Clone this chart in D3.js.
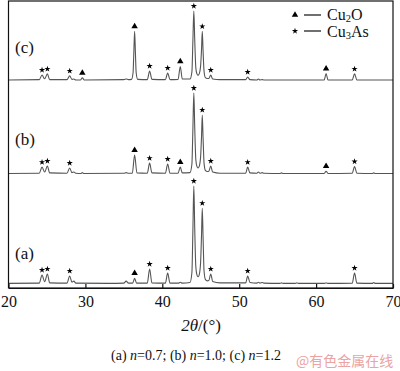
<!DOCTYPE html>
<html>
<head>
<meta charset="utf-8">
<script src="https://cdn.jsdelivr.net/npm/d3@7"></script>
<style>
  html, body { margin: 0; padding: 0; background: #fff; }
  svg { display: block; }
</style>
</head>
<body>
<svg id="chart" width="400" height="371"></svg>
<script>
// ---------- data ----------
const xTicks = [20, 30, 40, 50, 60, 70];
const seriesNames = ["(a)", "(b)", "(c)"];
const nValues = ["0.7", "1.0", "1.2"];
// vertical stacking offsets (intensity units)
const offsets = [14, 397, 723];

// XRD pattern, [2θ, relative intensity]
const patternA = [
  [20,2],[24.0,3],[24.36,31],[24.7,8],[25.06,35],[25.35,4],[27.6,3],[27.96,28],[28.25,6],[28.5,10],[28.75,3],
  [33,2],[35.0,3],[35.3,10],[35.6,3],[36.15,3],[36.4,20],[36.65,3],[38.05,3],[38.35,52],[38.65,4],
  [40.4,3],[40.7,38],[41.0,3],[42.1,3],[42.34,6],[42.6,3],[43.6,5],[43.85,40],[43.98,190],[44.1,341],
  [44.22,190],[44.36,60],[44.5,32],[44.65,25],[44.8,32],[44.98,75],[45.1,170],[45.2,264],[45.3,165],
  [45.43,45],[45.6,16],[45.85,11],[46.05,12],[46.3,35],[46.55,9],[47.5,4],[50.85,4],[51.1,28],[51.4,5],
  [52.3,3],[52.5,6],[52.7,3],[53.0,5],[53.2,3],[55.3,2],[55.5,4],[55.7,2],[57.3,2],[57.5,4],[57.7,2],
  [61.1,2],[61.3,4],[61.5,2],[64.7,3],[65.0,38],[65.3,3],[67.3,2],[67.5,5],[67.7,2],[70,2]
];
const patternB = [
  [20,2],[24.0,3],[24.36,24],[24.7,7],[25.06,28],[25.35,4],[27.6,3],[27.96,21],[28.25,5],[28.5,7],[28.75,3],
  [29.4,2],[29.6,5],[29.8,2],[35.0,3],[35.3,5],[35.6,3],[36.1,3],[36.4,66],[36.7,4],[38.05,3],[38.35,38],
  [38.65,4],[40.4,3],[40.7,35],[41.0,3],[42.05,3],[42.34,24],[42.6,4],[43.6,5],[43.85,35],[43.98,160],
  [44.1,282],[44.22,160],[44.36,50],[44.5,27],[44.65,21],[44.8,27],[44.98,60],[45.1,130],[45.2,206],
  [45.3,128],[45.43,38],[45.6,13],[45.85,9],[46.05,10],[46.3,28],[46.55,7],[47.5,3],[50.85,3],[51.1,24],
  [51.4,4],[52.3,3],[52.5,7],[52.7,3],[53.0,5],[53.2,3],[55.3,2],[55.5,4],[55.7,2],[61.05,2],[61.3,10],
  [61.55,2],[64.7,3],[65.0,26],[65.3,3],[67.3,2],[67.5,4],[67.7,2],[70,2]
];
const patternC = [
  [20,2],[24.0,3],[24.36,19],[24.7,6],[25.06,23],[25.35,3],[27.6,3],[27.96,16],[28.25,4],[28.5,5],[28.75,2],
  [29.35,2],[29.6,9],[29.85,2],[35.0,3],[35.3,5],[35.6,3],[36.0,4],[36.2,28],[36.3,100],[36.4,171],
  [36.5,100],[36.6,28],[36.8,4],[38.05,3],[38.35,33],[38.65,4],[40.4,3],[40.7,26],[41.0,3],[42.05,4],
  [42.34,49],[42.6,5],[43.6,5],[43.85,30],[43.98,140],[44.1,242],[44.22,140],[44.36,44],[44.5,23],
  [44.65,18],[44.8,23],[44.98,50],[45.1,108],[45.2,171],[45.3,105],[45.43,32],[45.6,10],[45.85,7],
  [46.05,7],[46.3,19],[46.55,5],[47.5,3],[50.85,3],[51.1,12],[51.4,3],[52.3,2],[52.5,5],[52.7,2],
  [53.0,3],[53.2,2],[61.05,2],[61.3,24],[61.55,2],[64.7,2],[65.0,23],[65.3,2],[70,2]
];
const patterns = [patternA, patternB, patternC];

// phase markers: star = Cu3As, triangle = Cu2O
const starsA = [24.36, 25.06, 27.96, 38.35, 40.7, 44.1, 45.2, 46.3, 51.1, 65.0];
const trianglesA = [36.4];
const starsB = [24.36, 25.06, 27.96, 38.35, 40.7, 44.1, 45.2, 46.3, 51.1, 65.0];
const trianglesB = [36.4, 42.34, 61.3];
const starsC = [24.36, 25.06, 27.96, 38.35, 40.7, 44.1, 45.2, 46.3, 51.1, 65.0];
const trianglesC = [29.6, 36.4, 42.34, 61.3];
const stars = [starsA, starsB, starsC];
const triangles = [trianglesA, trianglesB, trianglesC];

// ---------- drawing ----------
const svg = d3.select("#chart");
const L = 8.5, R = 393, T = 1, B = 288;
const x = d3.scaleLinear().domain([20, 70]).range([L, R]);
const y = d3.scaleLinear().domain([0, 1000]).range([B, T]);
const serif = "'Liberation Serif', 'Times New Roman', serif";

const line = d3.line()
  .x(d => x(d[0]))
  .y(d => y(d[1]))
  .curve(d3.curveMonotoneX);

patterns.forEach((pat, i) => {
  const data = pat.map(p => [p[0], p[1] + offsets[i]]);
  svg.append("path")
    .datum(data)
    .attr("d", line)
    .attr("fill", "none")
    .attr("stroke", "#555")
    .attr("stroke-width", 1.1)
    .attr("stroke-linejoin", "round");
});

function peakTop(pat, pos) {
  let best = 0;
  pat.forEach(p => { if (Math.abs(p[0] - pos) < 0.16 && p[1] > best) best = p[1]; });
  return best;
}

const starSym = d3.symbol().type(d3.symbolStar).size(12);
const triSym = d3.symbol().type(d3.symbolTriangle).size(18);

patterns.forEach((pat, i) => {
  stars[i].forEach(pos => {
    svg.append("path")
      .attr("d", starSym())
      .attr("transform", `translate(${x(pos)},${y(peakTop(pat, pos) + offsets[i]) - 5})`)
      .attr("fill", "#000");
  });
  triangles[i].forEach(pos => {
    svg.append("path")
      .attr("d", triSym())
      .attr("transform", `translate(${x(pos)},${y(peakTop(pat, pos) + offsets[i]) - 5})`)
      .attr("fill", "#000");
  });
});

// series labels
const labelY = [259, 145, 53];
seriesNames.forEach((s, i) => {
  svg.append("text")
    .attr("x", 15).attr("y", labelY[i])
    .attr("font-family", serif).attr("font-size", 17)
    .attr("fill", "#111")
    .text(s);
});

// frame
svg.append("rect")
  .attr("x", L).attr("y", T).attr("width", R - L).attr("height", B - T)
  .attr("fill", "none").attr("stroke", "#111").attr("stroke-width", 1.2);

// x axis (ticks inward)
const xAxis = d3.axisBottom(x).tickValues(xTicks).tickSizeInner(-4).tickSizeOuter(0).tickPadding(8)
  .tickFormat(d3.format("d"));
const gx = svg.append("g").attr("transform", `translate(0,${B})`).call(xAxis);
gx.attr("font-family", serif);
gx.select(".domain").attr("stroke", "#111").attr("stroke-width", 1.2);
gx.selectAll(".tick line").attr("stroke", "#111").attr("stroke-width", 1.2);
gx.selectAll(".tick text").attr("font-family", serif).attr("font-size", 16).attr("fill", "#111");

// axis title
const title = svg.append("text")
  .attr("x", 201).attr("y", 331)
  .attr("text-anchor", "middle")
  .attr("font-family", serif).attr("font-size", 17).attr("fill", "#111");
title.append("tspan").attr("font-style", "italic").text("2θ");
title.append("tspan").text("/(°)");

// legend
const lg = svg.append("g");
lg.append("path").attr("d", triSym()).attr("transform", "translate(295,15)").attr("fill", "#000");
lg.append("line").attr("x1", 304).attr("x2", 321).attr("y1", 15).attr("y2", 15).attr("stroke", "#111").attr("stroke-width", 1.2);
const t1 = lg.append("text").attr("x", 327).attr("y", 19.5).attr("font-family", serif).attr("font-size", 16).attr("fill", "#111");
t1.append("tspan").text("Cu");
t1.append("tspan").attr("font-size", 10.5).attr("dy", 2.5).text("2");
t1.append("tspan").attr("dy", -2.5).text("O");
lg.append("path").attr("d", starSym()).attr("transform", "translate(295,31)").attr("fill", "#000");
lg.append("line").attr("x1", 304).attr("x2", 321).attr("y1", 31).attr("y2", 31).attr("stroke", "#111").attr("stroke-width", 1.2);
const t2 = lg.append("text").attr("x", 327).attr("y", 36.5).attr("font-family", serif).attr("font-size", 16).attr("fill", "#111");
t2.append("tspan").text("Cu");
t2.append("tspan").attr("font-size", 10.5).attr("dy", 2.5).text("3");
t2.append("tspan").attr("dy", -2.5).text("As");

// caption
const cap = svg.append("text")
  .attr("x", 196).attr("y", 360).attr("text-anchor", "middle")
  .attr("font-family", serif).attr("font-size", 14).attr("fill", "#111");
seriesNames.forEach((s, i) => {
  cap.append("tspan").text(s + " ");
  cap.append("tspan").attr("font-style", "italic").text("n");
  cap.append("tspan").text("=" + nValues[i] + (i < 2 ? "; " : ""));
});

// watermark
svg.append("text")
  .attr("x", 296).attr("y", 366)
  .attr("font-family", "'Noto Sans CJK SC', sans-serif").attr("font-size", 14)
  .attr("fill", "#eba3a3")
  .text("@有色金属在线");
</script>
</body>
</html>
